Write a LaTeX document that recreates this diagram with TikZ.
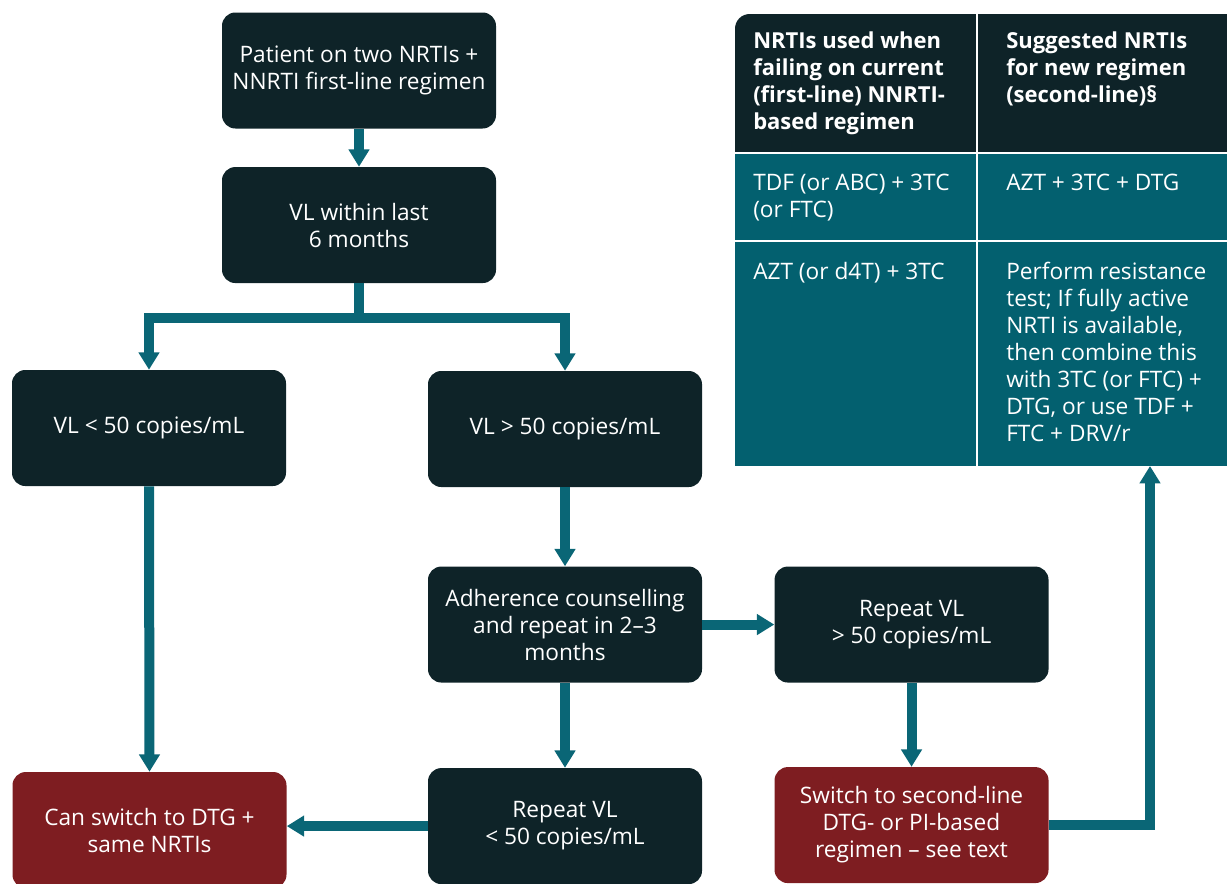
\documentclass[tikz,border=0pt]{standalone}
\usepackage{fontspec}
\setmainfont{Open Sans}
\usetikzlibrary{positioning,arrows.meta}
\definecolor{boxdark}{HTML}{0E2328}
\definecolor{boxred}{HTML}{7E1D21}
\definecolor{arrowteal}{HTML}{0A6676}
\definecolor{tableteal}{HTML}{03606F}
\newcommand{\flowfont}{\fontsize{17}{20.25}\selectfont}
\newcommand{\headfont}{\fontsize{16.5}{20.25}\selectfont\bfseries}
\tikzset{
  flowbox/.style={rounded corners=10pt, fill=boxdark, text=white, align=center, font=\flowfont, minimum width=205.5pt, minimum height=87pt, inner sep=2pt},
  red flowbox/.style={flowbox, fill=boxred},
  flow line/.style={draw=arrowteal, line width=7.5pt},
  flow arrow/.style={flow line, -{Triangle[width=15pt,length=13pt]}},
  cell text/.style={anchor=north west, inner sep=0pt, text=white, align=left, font=\flowfont},
  head text/.style={cell text, font=\headfont},
}

\begin{document}
\begin{tikzpicture}[x=0.75pt,y=-0.75pt]
\clip (0,0) rectangle (1227,883);
% the nodes
\node [flowbox] (patient) at (359,70.5) {Patient on two NRTIs +\\NNRTI first-line regimen};
\node [flowbox,below=28.5pt of patient] (vlcheck) {VL within last\\6 months};
\node [flowbox] (vllow) at (149,428) {VL < 50 copies/mL};
\node [flowbox] (vlhigh) at (565,429) {VL > 50 copies/mL};
\node [flowbox,below=59.25pt of vlhigh] (counsel) {Adherence counselling\\and repeat in 2–3\\months};
\node [flowbox,right=54pt of counsel] (repeathigh) {Repeat VL\\> 50 copies/mL};
\node [flowbox,below=63.75pt of counsel] (repeatlow) {Repeat VL\\< 50 copies/mL};
\node [red flowbox,below=63pt of repeathigh] (switchsecond) {Switch to second-line\\DTG- or PI-based\\regimen – see text};
\node [red flowbox] (switchdtg) at (149.5,830) {Can switch to DTG +\\same NRTIs};

% the table
\fill[boxdark, rounded corners=11pt] (735,14) rectangle (1260,180);
\fill[tableteal] (735,153) rectangle (1227,466);
\draw[white, line width=1pt] (735,153) -- (1227,153) (735,241) -- (1227,241) (977,14) -- (977,466);
\node [head text] (headold) at (753,32) {NRTIs used when\\failing on current\\(first-line) NNRTI-\\based regimen};
\node [head text] (headnew) at (1006,32) {Suggested NRTIs\\for new regimen\\(second-line)§};
\node [cell text] (oldone) at (753,174) {TDF (or ABC) + 3TC\\(or FTC)};
\node [cell text] (newone) at (1006,174) {AZT + 3TC + DTG};
\node [cell text] (oldtwo) at (753,262) {AZT (or d4T) + 3TC};
\node [cell text] (newtwo) at (1006,262) {Perform resistance\\test; If fully active\\NRTI is available,\\then combine this\\with 3TC (or FTC) +\\DTG, or use TDF +\\FTC + DRV/r};
\coordinate (tablefoot) at (1150,466);
\coordinate (fork) at (359,318);

%drawings of vectors
\draw[flow arrow] (patient.south) -- (vlcheck.north);
\draw[flow line] (vlcheck.south) -- (fork);
\draw[flow arrow] (fork) -| (vllow.north);
\draw[flow arrow] (fork) -| (vlhigh.north);

\draw[flow arrow] (vllow.south) -- (switchdtg.north);
\draw[flow arrow] (vlhigh.south) -- (counsel.north);
\draw[flow arrow] (counsel.east) -- (repeathigh.west);
\draw[flow arrow] (counsel.south) -- (repeatlow.north);
\draw[flow arrow] (repeathigh.south) -- (switchsecond.north);
\draw[flow arrow] (repeatlow.west) -- (repeatlow.west -| switchdtg.east);
\draw[flow arrow] (switchsecond.east) -| (tablefoot);

\end{tikzpicture}
\end{document}
